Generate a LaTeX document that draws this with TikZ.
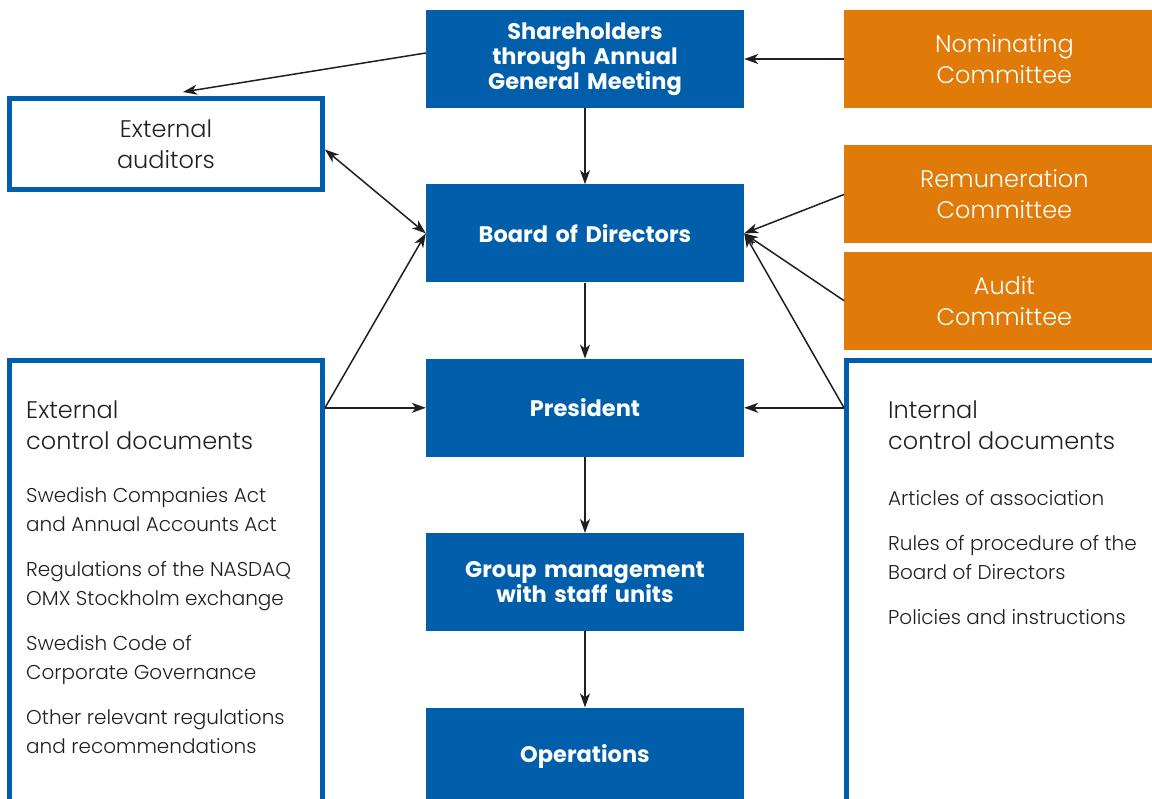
\documentclass[tikz,border=0pt]{standalone}
\usepackage{fontspec}
\setmainfont{Poppins}
\newfontfamily\lightfont{Poppins Light}
\usetikzlibrary{arrows.meta,positioning}
\definecolor{corpblue}{RGB}{0,94,170}
\definecolor{corporange}{RGB}{224,122,8}
\definecolor{inkblack}{RGB}{35,31,32}
\tikzset{
  %Define standard arrow tip
    >={Stealth[length=14pt,width=10pt,inset=4pt]},
  %define style for blue boxes
  bluebox/.style={
    rectangle,
    fill=corpblue,
    text=white,
    font=\fontsize{22.5}{25}\selectfont\bfseries,
    text width=310pt,
    align=center,
    inner sep=0pt,
    minimum width=318pt,
    minimum height=98pt},
  %define style for committee boxes
  orangebox/.style={
    rectangle,
    fill=corporange,
    text=white,
    font=\lightfont\fontsize{24}{31}\selectfont,
    text width=300pt,
    align=center,
    inner sep=0pt,
    minimum width=320pt,
    minimum height=98pt},
  %define style for framed boxes
  framebox/.style={
    rectangle,
    draw=corpblue,
    line width=5pt,
    inner sep=0pt,
    minimum width=313pt},
  %define style for texts in frames
  headtext/.style={
    anchor=north west,
    align=left,
    inner sep=0pt,
    text=inkblack,
    font=\lightfont\fontsize{24}{31}\selectfont},
  itemtext/.style={
    anchor=north west,
    align=left,
    inner sep=0pt,
    text=inkblack,
    font=\lightfont\fontsize{20}{29}\selectfont},
  %define style for arrows
  myarrow/.style={
    ->,
    line width=1.5pt,
    draw=inkblack}
}
\begin{document}
\begin{tikzpicture}[x=1pt, y=-1pt, node distance=76pt]
\clip (0,0) rectangle (1152,799);
%nodes
\node[bluebox] (share) at (585,59) {Shareholders\\through Annual\\General Meeting};
\node[bluebox, below=of share] (board) {Board of Directors};
\node[bluebox, below=of board] (pres) {President};
\node[bluebox, below=of pres] (group) {Group management\\with staff units};
\node[bluebox, below=of group] (ops) {Operations};

\node[orangebox, right=100pt of share] (nom) {Nominating\\Committee};
\node[orangebox, below=37pt of nom] (rem) {Remuneration\\Committee};
\node[orangebox, below=8pt of rem] (aud) {Audit\\Committee};

\node[framebox, minimum height=91pt, text=inkblack, align=center,
      font=\lightfont\fontsize{24}{31}\selectfont] (extaud) at (166,144.5) {External\\auditors};
\node[framebox, minimum height=500pt] (extdoc) at (166,610.5) {};
\node[framebox, minimum width=314pt, minimum height=500pt] (intdoc) at (1003.5,611) {};

\node[headtext] (exthead) at (26,401) {External\\control documents};
\node[itemtext] (extitems) at (26,487) {Swedish Companies Act\\and Annual Accounts Act\\[16pt]
  Regulations of the NASDAQ\\OMX Stockholm exchange\\[16pt]
  Swedish Code of\\Corporate Governance\\[16pt]
  Other relevant regulations\\and recommendations};
\node[headtext] (inthead) at (888,401) {Internal\\control documents};
\node[itemtext] (intitems) at (888,490) {Articles of association\\[16pt]
  Rules of procedure of the\\Board of Directors\\[16pt]
  Policies and instructions};

\coordinate (audtop) at (183,92);
\coordinate (extpt) at (pres.west -| extdoc.east);
\coordinate (intpt) at (pres.east -| intdoc.west);

%arrows
\draw[myarrow] (share) -- (board);
\draw[myarrow] (board) -- (pres);
\draw[myarrow] (pres) -- (group);
\draw[myarrow] (group) -- (ops);
\draw[myarrow] (nom.west) -- (share.east);
\draw[myarrow] ([yshift=6pt]share.west) -- (audtop);
\draw[myarrow, <->] ([yshift=-5pt]extaud.east) -- (board.west);
\draw[myarrow] (extpt) -- (board.west);
\draw[myarrow] (extpt) -- (pres.west);
\draw[myarrow] (rem.west) -- (board.east);
\draw[myarrow] (aud.west) -- (board.east);
\draw[myarrow] (intpt) -- (board.east);
\draw[myarrow] (intpt) -- (pres.east);
\end{tikzpicture}
\end{document}
